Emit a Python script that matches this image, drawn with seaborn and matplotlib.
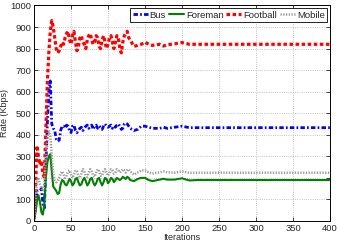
import matplotlib
matplotlib.use("Agg")
import matplotlib.pyplot as plt
import seaborn as sns
import pandas as pd

iters = [0, 2, 4, 6, 8, 10, 12, 14, 16, 18, 20, 22, 24, 26, 28, 30, 32, 34, 36, 38,
         40, 42, 44, 46, 48, 50, 52, 54, 56, 58, 60, 62, 64, 66, 68, 70, 72, 74, 76, 78,
         80, 82, 84, 86, 88, 90, 92, 94, 96, 98, 100, 102, 104, 106, 108, 110, 112, 114, 116, 118,
         120, 122, 124, 126, 128, 130, 135, 140, 145, 150, 155, 160, 170, 175, 180, 190, 200, 210, 220, 400]

football = [20, 150, 350, 300, 260, 280, 220, 200, 420, 640, 780, 880, 930, 900, 850, 800, 780, 790, 810, 830,
            820, 850, 870, 880, 840, 820, 860, 880, 830, 790, 810, 850, 860, 830, 820, 800, 840, 860, 870, 840,
            820, 830, 860, 850, 810, 800, 840, 860, 830, 800, 820, 850, 860, 830, 800, 830, 860, 850, 800, 780,
            830, 860, 870, 880, 850, 840, 810, 815, 820, 830, 820, 815, 820, 812, 818, 822, 828, 820, 820, 820]

bus = [10, 60, 140, 140, 140, 150, 80, 60, 250, 450, 600, 650, 450, 430, 420, 380, 370, 375, 420, 440,
       440, 430, 445, 440, 420, 410, 440, 445, 420, 410, 420, 430, 435, 420, 430, 440, 445, 430, 440, 445,
       425, 440, 445, 430, 440, 435, 425, 440, 450, 440, 435, 440, 445, 430, 440, 435, 445, 450, 440, 425,
       430, 450, 455, 450, 440, 430, 420, 425, 440, 440, 435, 430, 430, 435, 430, 435, 440, 433, 433, 433]

foreman = [0, 40, 90, 120, 90, 40, 30, 80, 200, 270, 300, 310, 230, 160, 150, 140, 125, 130, 170, 190,
           185, 170, 165, 180, 195, 185, 165, 175, 195, 200, 180, 165, 170, 190, 200, 185, 165, 175, 195, 200,
           180, 165, 175, 195, 200, 180, 165, 180, 200, 195, 175, 185, 200, 195, 180, 190, 200, 195, 190, 195,
           205, 200, 195, 205, 200, 190, 185, 195, 200, 200, 190, 185, 192, 196, 192, 192, 198, 188, 190, 190]

mobile = [0, 100, 190, 200, 170, 150, 140, 180, 300, 380, 420, 400, 300, 220, 190, 180, 185, 200, 220, 230,
          215, 200, 210, 230, 235, 215, 200, 215, 235, 230, 210, 200, 220, 240, 230, 210, 205, 225, 240, 230,
          210, 205, 225, 240, 230, 210, 210, 230, 240, 225, 210, 220, 240, 235, 220, 225, 240, 235, 225, 230,
          240, 235, 225, 235, 240, 230, 215, 225, 235, 235, 225, 220, 226, 230, 226, 224, 230, 223, 224, 224]

x_ticks = [0, 50, 100, 150, 200, 250, 300, 350, 400]
y_ticks = [0, 100, 200, 300, 400, 500, 600, 700, 800, 900, 1000]

sns.set_style("ticks")
plt.rcParams['font.family'] = ['Liberation Sans', 'DejaVu Sans']

fig = plt.figure(figsize=(3.39, 2.42), dpi=100)
ax = fig.add_axes([0.1003, 0.0868, 0.8732, 0.8905])

series = [
    ("Bus", bus, dict(color="#0000ff", linestyle=(0, (1.6, 0.8, 0.6, 0.8)), linewidth=2.0)),
    ("Foreman", foreman, dict(color="#008000", linestyle="-", linewidth=1.5)),
    ("Football", football, dict(color="#ff0000", linestyle=(0, (1.1, 0.8)), linewidth=2.3)),
    ("Mobile", mobile, dict(color="#999999", linestyle=(0, (0.5, 0.6)), linewidth=1.8)),
]
for name, vals, kw in series:
    df = pd.DataFrame({"Iterations": iters, "Rate": vals})
    sns.lineplot(data=df, x="Iterations", y="Rate", ax=ax, label=name, **kw)

ax.set_xlim(0, 400)
ax.set_ylim(0, 1000)
ax.set_xticks(x_ticks)
ax.set_yticks(y_ticks)
ax.tick_params(direction="in", labelsize=6.8, length=3, width=0.6, top=True, right=True, pad=2)
ax.grid(True, linestyle=":", color="#b0b0b0", linewidth=0.6)
for s in ax.spines.values():
    s.set_linewidth(0.7)
    s.set_color("black")
ax.set_xlabel("Iterations", fontsize=6.5, labelpad=0)
ax.set_ylabel("Rate (Kbps)", fontsize=6.5, labelpad=1)

leg = ax.legend(loc="upper right", ncol=4, fontsize=6.8, frameon=True, fancybox=False,
                handlelength=1.6, handletextpad=0.2, columnspacing=0.3, borderpad=0.25,
                borderaxespad=0.3, edgecolor="black", framealpha=1)
leg.get_frame().set_linewidth(0.6)

fig.savefig("out.png", dpi=100)
